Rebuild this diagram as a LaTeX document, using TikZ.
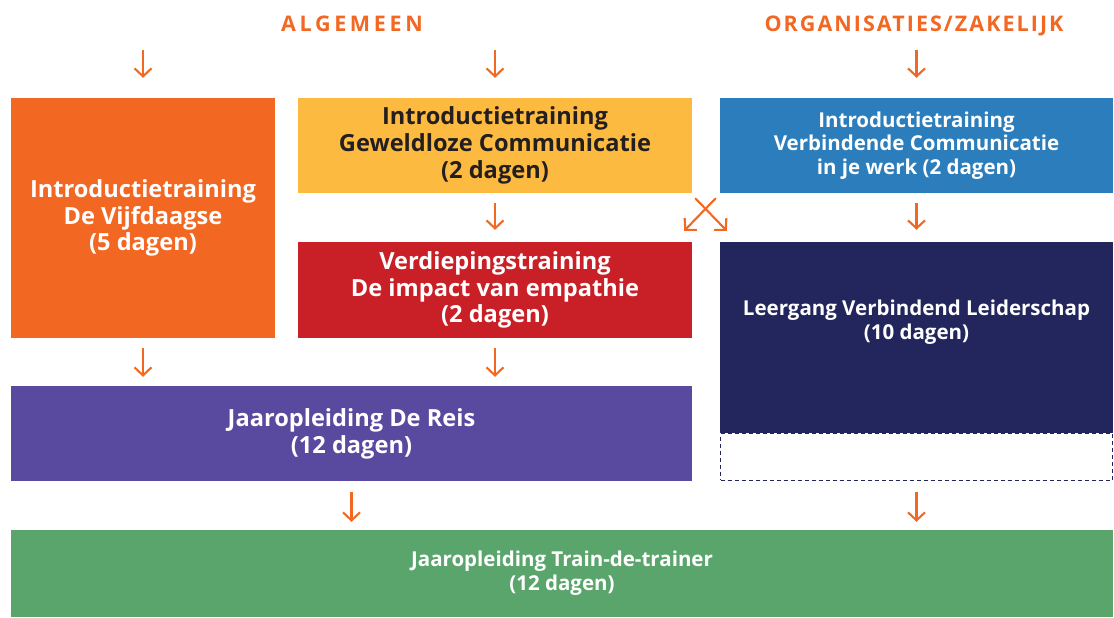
\documentclass[tikz,border=0pt]{standalone}
\usepackage{fontspec}
\setmainfont{Open Sans}
\usetikzlibrary{arrows.meta,calc}

\definecolor{oranje}{HTML}{F26722}
\definecolor{geel}{HTML}{FDBA40}
\definecolor{blauw}{HTML}{2B7DBB}
\definecolor{rood}{HTML}{C92028}
\definecolor{navy}{HTML}{22265D}
\definecolor{paars}{HTML}{5A4A9F}
\definecolor{groen}{HTML}{5AA56C}
\definecolor{donker}{HTML}{231F20}

\begin{document}
\begin{tikzpicture}[x=1pt, y=1pt,
    blok/.style={rectangle, inner sep=0pt, align=center, text=white,
        font=\bfseries\fontsize{23.6}{26.8}\selectfont},
    klein/.style={font=\bfseries\fontsize{20.5}{23.8}\selectfont},
    kop/.style={text=oranje, inner sep=0pt, anchor=base},
    pijl/.style={draw=oranje, line width=2.1pt,
        -{Straight Barb[length=8pt, width=17pt]}}]
    \useasboundingbox (0,0) rectangle (1114,618);

    % kopjes
    \node[kop, font=\bfseries\fontsize{21.5}{24}\selectfont\addfontfeature{LetterSpace=17}]
        (alg) at (352,586.5) {ALGEMEEN};
    \node[kop, font=\bfseries\fontsize{21.5}{24}\selectfont\addfontfeature{LetterSpace=9.5}]
        (org) at (914,586.5) {ORGANISATIES/ZAKELIJK};

    % blokken
    \node[blok, fill=oranje, minimum width=264, minimum height=240] (vijf) at (143,400)
        {Introductietraining\\De Vijfdaagse\\(5 dagen)};
    \node[blok, fill=geel, text=donker, minimum width=394, minimum height=95] (gc) at (495,472.5)
        {Introductietraining\\Geweldloze Communicatie\\(2 dagen)};
    \node[blok, klein, fill=blauw, minimum width=393, minimum height=95] (vcw) at (916.5,472.5)
        {Introductietraining\\Verbindende Communicatie\\in je werk (2 dagen)};
    \node[blok, fill=rood, minimum width=394, minimum height=96] (emp) at (495,328)
        {Verdiepingstraining\\De impact van empathie\\(2 dagen)};
    \node[blok, fill=navy, minimum width=393, minimum height=191] (leider) at (916.5,280.5) {};
    \node[blok, klein] (leidertekst) at ($(leider.center)+(0,15)$)
        {Leergang Verbindend Leiderschap\\(10 dagen)};
    \node[draw=navy, line width=1.3pt, dash pattern=on 4pt off 3pt, inner sep=0pt,
        minimum width=391.7, minimum height=46.7] (leegte) at (916.5,161) {};
    \node[blok, fill=paars, minimum width=681, minimum height=95] (reis) at (351.5,184.5)
        {Jaaropleiding De Reis\\(12 dagen)};
    \node[blok, klein, fill=groen, minimum width=1102, minimum height=87] (ttt) at (562,44.5)
        {Jaaropleiding Train-de-trainer\\(12 dagen)};

    % pijlen
    \draw[pijl, shorten <=18.5, shorten >=20] (alg.base -| vijf.north) -- (vijf.north);
    \draw[pijl, shorten <=18.5, shorten >=20] (alg.base -| gc.north) -- (gc.north);
    \draw[pijl, shorten <=18.5, shorten >=20] (org.base -| vcw.north) -- (vcw.north);
    \draw[pijl, shorten <=10, shorten >=12] (gc.south) -- (emp.north);
    \draw[pijl, shorten <=10, shorten >=12] (vcw.south) -- (leider.north);
    \draw[pijl] ($(gc.south east)+(3,-5)$) -- ($(leider.north west)+(7,11)$);
    \draw[pijl] ($(vcw.south west)+(-4,-5)$) -- ($(emp.north east)+(-8,11)$);
    \draw[pijl, shorten <=10, shorten >=9] (vijf.south) -- (vijf.south |- reis.north);
    \draw[pijl, shorten <=10, shorten >=9] (emp.south) -- (emp.south |- reis.north);
    \draw[pijl, shorten <=11, shorten >=8] (reis.south) -- (reis.south |- ttt.north);
    \draw[pijl, shorten <=11, shorten >=8] (leegte.south) -- (leegte.south |- ttt.north);
\end{tikzpicture}
\end{document}
